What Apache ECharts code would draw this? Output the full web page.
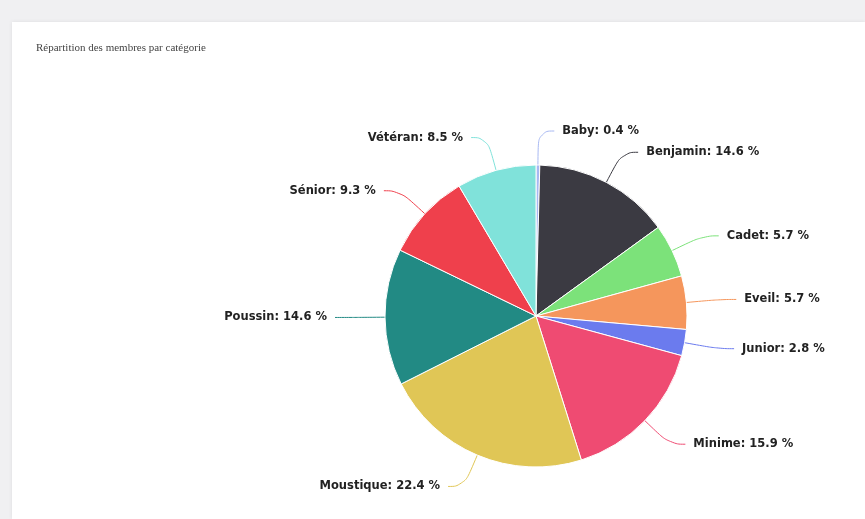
<!DOCTYPE html>
<html>
<head>
<meta charset="utf-8">
<script src="https://cdn.jsdelivr.net/npm/echarts@6/dist/echarts.min.js"></script>
<style>
html,body{margin:0;padding:0;background:#f0f0f2;width:865px;height:519px;overflow:hidden;}
#card{position:absolute;left:12px;top:22px;width:853px;height:497px;background:#fff;box-shadow:0 0 4px rgba(0,0,0,0.08);}
#chart{position:absolute;left:0;top:0;width:865px;height:519px;}
</style>
</head>
<body>
<div id="card"></div>
<div id="chart"></div>
<script>
const categories = ['Baby','Benjamin','Cadet','Eveil','Junior','Minime','Moustique','Poussin','Sénior','Vétéran'];
const values = [0.4, 14.6, 5.7, 5.7, 2.8, 15.9, 22.4, 14.6, 9.3, 8.5];
const colors = ['#a7b8f2','#3b3a42','#7ce27a','#f5965c','#6b7bee','#ef4b72','#e0c656','#228a84','#ef404c','#80e2da'];

const chart = echarts.init(document.getElementById('chart'));
chart.setOption({
  animation:false,
  title:{text:'Répartition des membres par catégorie',left:31,top:38,
    textStyle:{fontFamily:'Liberation Serif',fontSize:11,fontWeight:'normal',color:'#444'}},
  series:[{
    type:'pie',
    center:[536,316],
    radius:151,
    startAngle:90,
    clockwise:true,
    data:categories.map((c,i)=>({name:c,value:values[i],itemStyle:{color:colors[i]}})),
    itemStyle:{borderColor:'#fff',borderWidth:1},
    label:{formatter:p=>p.name+': '+p.value+' %',fontFamily:'DejaVu Sans',fontWeight:'bold',fontSize:11.5,color:'#222',distanceToLabelLine:8},
    labelLine:{length:34,length2:16,smooth:0.5,lineStyle:{width:1}}
  }]
});
</script>
</body>
</html>
